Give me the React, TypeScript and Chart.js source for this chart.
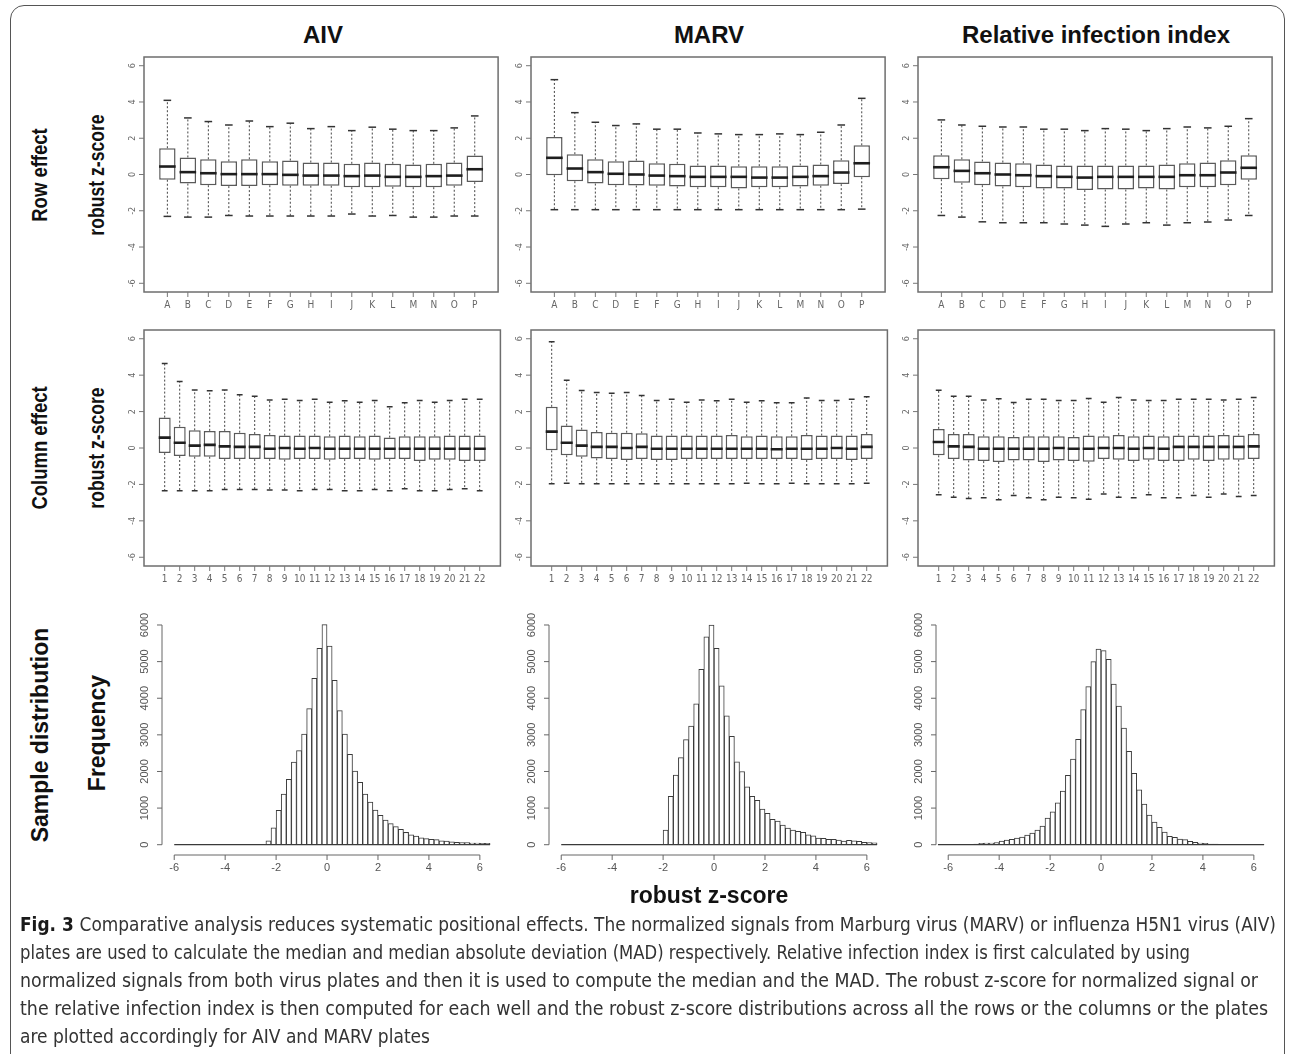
import React, { useEffect, useRef } from "react";
import { Chart, registerables } from "chart.js";
Chart.register(...registerables);

const NARROW = '"Liberation Sans Narrow", "DejaVu Sans Condensed", "Liberation Sans", Arial, sans-serif';
const SANS = '"Liberation Sans", Arial, Helvetica, sans-serif';

// ---------- categories / ticks ----------
const ROW_CATS = ["A", "B", "C", "D", "E", "F", "G", "H", "I", "J", "K", "L", "M", "N", "O", "P"];
const COL_CATS = ["1", "2", "3", "4", "5", "6", "7", "8", "9", "10", "11", "12", "13", "14", "15", "16", "17", "18", "19", "20", "21", "22"];
const BOX_Y_TICKS = [-6, -4, -2, 0, 2, 4, 6];
const HIST_Y_TICKS = [0, 1000, 2000, 3000, 4000, 5000, 6000];
const HIST_X_TICKS = [-6, -4, -2, 0, 2, 4, 6];
const BIN_WIDTH = 0.2;

// ---------- Row effect ----------
const rowAivHi = [4.09, 3.12, 2.92, 2.73, 2.95, 2.64, 2.83, 2.53, 2.64, 2.42, 2.61, 2.5, 2.42, 2.42, 2.57, 3.23];
const rowAivQ3 = [1.45, 0.94, 0.84, 0.73, 0.84, 0.73, 0.77, 0.66, 0.66, 0.59, 0.66, 0.59, 0.55, 0.59, 0.66, 1.05];
const rowAivMed = [0.44, 0.13, 0.07, 0.02, 0.02, 0.02, -0.02, -0.06, -0.06, -0.09, -0.06, -0.13, -0.13, -0.09, -0.06, 0.29];
const rowAivQ1 = [-0.29, -0.5, -0.59, -0.64, -0.64, -0.59, -0.62, -0.62, -0.62, -0.7, -0.7, -0.68, -0.7, -0.7, -0.62, -0.42];
const rowAivLo = [-2.31, -2.35, -2.35, -2.26, -2.29, -2.29, -2.29, -2.29, -2.29, -2.18, -2.29, -2.26, -2.35, -2.35, -2.29, -2.29];

const rowMarvHi = [5.23, 3.41, 2.88, 2.7, 2.79, 2.5, 2.5, 2.29, 2.24, 2.2, 2.2, 2.24, 2.2, 2.33, 2.73, 4.2];
const rowMarvQ3 = [2.07, 1.12, 0.84, 0.73, 0.77, 0.62, 0.59, 0.5, 0.5, 0.46, 0.46, 0.46, 0.5, 0.55, 0.79, 1.61];
const rowMarvMed = [0.92, 0.33, 0.13, 0.04, 0.0, -0.06, -0.09, -0.13, -0.13, -0.13, -0.17, -0.17, -0.13, -0.09, 0.11, 0.62];
const rowMarvQ1 = [-0.04, -0.37, -0.5, -0.59, -0.61, -0.62, -0.66, -0.7, -0.7, -0.77, -0.7, -0.7, -0.66, -0.62, -0.53, -0.15];
const rowMarvLo = [-1.94, -1.94, -1.94, -1.94, -1.94, -1.94, -1.94, -1.94, -1.94, -1.94, -1.94, -1.94, -1.94, -1.94, -1.94, -1.91];

const rowRiiHi = [3.01, 2.73, 2.66, 2.62, 2.62, 2.5, 2.5, 2.42, 2.53, 2.5, 2.42, 2.53, 2.62, 2.57, 2.66, 3.08];
const rowRiiQ3 = [1.06, 0.84, 0.72, 0.66, 0.62, 0.55, 0.5, 0.5, 0.5, 0.5, 0.5, 0.55, 0.62, 0.66, 0.79, 1.06];
const rowRiiMed = [0.4, 0.2, 0.07, 0.0, -0.04, -0.09, -0.13, -0.17, -0.13, -0.13, -0.13, -0.13, -0.04, -0.04, 0.11, 0.37];
const rowRiiQ1 = [-0.26, -0.46, -0.59, -0.66, -0.7, -0.77, -0.77, -0.86, -0.83, -0.83, -0.77, -0.83, -0.7, -0.7, -0.59, -0.29];
const rowRiiLo = [-2.26, -2.35, -2.61, -2.66, -2.66, -2.66, -2.73, -2.79, -2.86, -2.73, -2.66, -2.79, -2.66, -2.62, -2.51, -2.26];

// ---------- Column effect ----------
const colAivHi = [4.64, 3.65, 3.19, 3.14, 3.19, 2.92, 2.84, 2.64, 2.68, 2.61, 2.68, 2.51, 2.59, 2.51, 2.61, 2.26, 2.48, 2.61, 2.51, 2.61, 2.68, 2.68];
const colAivQ3 = [1.67, 1.17, 0.97, 0.94, 0.94, 0.84, 0.77, 0.72, 0.68, 0.68, 0.68, 0.64, 0.68, 0.64, 0.68, 0.57, 0.64, 0.64, 0.64, 0.68, 0.68, 0.68];
const colAivMed = [0.57, 0.29, 0.13, 0.17, 0.09, 0.06, 0.06, -0.04, 0.0, -0.04, 0.0, -0.04, -0.04, -0.04, -0.04, -0.04, -0.04, -0.04, -0.04, -0.04, -0.04, -0.04];
const colAivQ1 = [-0.28, -0.44, -0.48, -0.48, -0.61, -0.61, -0.61, -0.61, -0.64, -0.61, -0.61, -0.64, -0.61, -0.61, -0.64, -0.61, -0.61, -0.72, -0.64, -0.64, -0.72, -0.72];
const colAivLo = [-2.35, -2.35, -2.35, -2.35, -2.28, -2.28, -2.28, -2.31, -2.31, -2.35, -2.28, -2.28, -2.35, -2.35, -2.28, -2.35, -2.24, -2.35, -2.35, -2.28, -2.24, -2.35];

const colMarvHi = [5.83, 3.72, 3.16, 3.05, 3.01, 3.05, 2.88, 2.61, 2.68, 2.51, 2.64, 2.59, 2.68, 2.51, 2.59, 2.48, 2.48, 2.75, 2.61, 2.61, 2.68, 2.81];
const colMarvQ3 = [2.26, 1.23, 1.01, 0.88, 0.84, 0.84, 0.81, 0.68, 0.68, 0.68, 0.68, 0.68, 0.72, 0.64, 0.68, 0.64, 0.64, 0.72, 0.68, 0.68, 0.68, 0.77];
const colMarvMed = [0.9, 0.29, 0.13, 0.06, 0.06, 0.0, 0.06, -0.04, -0.04, -0.04, -0.04, -0.04, -0.04, -0.04, -0.04, -0.07, -0.04, -0.04, -0.04, 0.0, -0.04, 0.06];
const colMarvQ1 = [-0.13, -0.4, -0.48, -0.57, -0.61, -0.66, -0.61, -0.66, -0.66, -0.61, -0.61, -0.61, -0.61, -0.61, -0.61, -0.61, -0.61, -0.66, -0.61, -0.61, -0.66, -0.61];
const colMarvLo = [-1.96, -1.93, -1.96, -1.96, -1.96, -1.96, -1.96, -1.96, -1.96, -1.96, -1.96, -1.96, -1.96, -1.93, -1.96, -1.96, -1.93, -1.96, -1.96, -1.96, -1.96, -1.93];

const colRiiHi = [3.17, 2.84, 2.84, 2.64, 2.7, 2.5, 2.68, 2.68, 2.61, 2.61, 2.72, 2.51, 2.77, 2.64, 2.61, 2.61, 2.68, 2.68, 2.68, 2.64, 2.68, 2.77];
const colRiiQ3 = [1.05, 0.77, 0.77, 0.64, 0.64, 0.61, 0.64, 0.64, 0.64, 0.61, 0.68, 0.64, 0.72, 0.64, 0.68, 0.64, 0.68, 0.68, 0.68, 0.72, 0.68, 0.77];
const colRiiMed = [0.33, 0.09, 0.06, -0.04, -0.04, -0.04, -0.04, -0.04, 0.0, -0.04, -0.04, 0.0, 0.0, -0.04, 0.0, -0.04, 0.06, 0.06, 0.06, 0.06, 0.06, 0.09];
const colRiiQ1 = [-0.4, -0.61, -0.68, -0.72, -0.77, -0.68, -0.68, -0.77, -0.68, -0.72, -0.75, -0.61, -0.64, -0.72, -0.64, -0.72, -0.72, -0.64, -0.72, -0.64, -0.64, -0.61];
const colRiiLo = [-2.57, -2.7, -2.77, -2.73, -2.84, -2.61, -2.73, -2.84, -2.7, -2.73, -2.81, -2.53, -2.7, -2.73, -2.57, -2.73, -2.73, -2.61, -2.7, -2.53, -2.66, -2.61];

// ---------- Sample distribution (histogram counts, bin width 0.2) ----------
const aivHistStart = -6;
const aivCounts = [
  0, 0, 0, 0, 0, 0, 0, 0, 0, 0, 0, 0, 0, 0, 0, 0, 0, 0,
  109, 464,
  938, 1384, 1785, 2258, 2568, 3023, 3715, 4543, 5363, 6009,
  5427, 4489, 3660, 3023, 2467, 2012, 1703, 1384, 1165, 947,
  801, 674, 574, 492, 419, 337, 273, 237, 191, 164,
  146, 137, 109, 100, 82, 64, 55, 55, 46, 46,
  40, 40,
];
const marvHistStart = -6;
const marvCounts = [
  0, 0, 0, 0, 0, 0, 0, 0, 0, 0, 0, 0, 0, 0, 0, 0, 0, 0, 0, 0,
  400, 1320, 1900, 2380, 2870, 3240, 3850, 4790, 5680, 6000,
  5360, 4340, 3520, 2960, 2260, 2000, 1580, 1320, 1210, 970,
  855, 690, 645, 536, 455, 400, 364, 336, 273, 245,
  182, 173, 145, 145, 127, 100, 118, 109, 91, 64,
  55, 50,
];
const riiHistStart = -6.4;
const riiCounts = [
  3, 4, 5, 6, 8, 10, 13, 20,
  36, 45, 45, 55, 100, 127, 146, 182, 209, 264,
  319, 400, 510, 730, 900, 1147, 1465, 1895, 2340, 2880,
  3690, 4315, 5000, 5345,
  5300, 5063, 4390, 3788, 3187, 2550, 1950, 1500, 1110, 810,
  620, 473, 346, 228, 200, 155, 137, 91, 64, 45,
  36, 20, 14, 10, 8, 6, 5, 4, 3, 3,
  2, 2,
];

// ---------- layout ----------
const COL_LEFT = [144, 531, 918];
const PLOT_W = 357;
const PAD = { left: 42, top: 14, right: 8, bottom: 26 };

function drawRotated(ctx: CanvasRenderingContext2D, text: string, x: number, y: number) {
  ctx.save();
  ctx.translate(x, y);
  ctx.rotate(-Math.PI / 2);
  ctx.fillText(text, 0, 0);
  ctx.restore();
}

function boxAxesPlugin(cats: string[]) {
  return {
    id: "rBoxAxes",
    afterDraw(chart: any) {
      const { ctx, chartArea: a, scales } = chart;
      const xs = scales.x;
      const ys = scales.y;
      ctx.save();
      ctx.strokeStyle = "#6e6e6e";
      ctx.lineWidth = 1.5;
      ctx.strokeRect(a.left, a.top, a.right - a.left, a.bottom - a.top);
      ctx.strokeStyle = "#777";
      ctx.lineWidth = 1;
      ctx.fillStyle = "#666";
      ctx.font = "9px " + NARROW;
      ctx.textAlign = "center";
      ctx.textBaseline = "middle";
      BOX_Y_TICKS.forEach((v) => {
        const y = ys.getPixelForValue(v);
        ctx.beginPath();
        ctx.moveTo(a.left, y);
        ctx.lineTo(a.left - 5, y);
        ctx.stroke();
        drawRotated(ctx, String(v), a.left - 11, y);
      });
      ctx.font = "10px " + NARROW;
      cats.forEach((c, i) => {
        const x = xs.getPixelForValue(i + 1);
        ctx.beginPath();
        ctx.moveTo(x, a.bottom);
        ctx.lineTo(x, a.bottom + 5);
        ctx.stroke();
        ctx.fillText(c, x, a.bottom + 13);
      });
      ctx.restore();
    },
  };
}

const histAxesPlugin = {
  id: "rHistAxes",
  afterDraw(chart: any) {
    const { ctx, chartArea: a, scales } = chart;
    const xs = scales.x;
    const ys = scales.y;
    ctx.save();
    ctx.strokeStyle = "#666";
    ctx.lineWidth = 1;
    ctx.fillStyle = "#555";
    ctx.textAlign = "center";
    ctx.textBaseline = "middle";
    ctx.font = "11px " + SANS;
    const y0 = ys.getPixelForValue(HIST_Y_TICKS[0]);
    const y1 = ys.getPixelForValue(HIST_Y_TICKS[HIST_Y_TICKS.length - 1]);
    ctx.beginPath();
    ctx.moveTo(a.left, y0);
    ctx.lineTo(a.left, y1);
    ctx.stroke();
    HIST_Y_TICKS.forEach((v) => {
      const y = ys.getPixelForValue(v);
      ctx.beginPath();
      ctx.moveTo(a.left, y);
      ctx.lineTo(a.left - 5, y);
      ctx.stroke();
      drawRotated(ctx, String(v), a.left - 17, y);
    });
    const x0 = xs.getPixelForValue(HIST_X_TICKS[0]);
    const x1 = xs.getPixelForValue(HIST_X_TICKS[HIST_X_TICKS.length - 1]);
    ctx.beginPath();
    ctx.moveTo(x0, a.bottom);
    ctx.lineTo(x1, a.bottom);
    ctx.stroke();
    HIST_X_TICKS.forEach((v) => {
      const x = xs.getPixelForValue(v);
      ctx.beginPath();
      ctx.moveTo(x, a.bottom);
      ctx.lineTo(x, a.bottom + 5);
      ctx.stroke();
      ctx.fillText(String(v), x, a.bottom + 13);
    });
    ctx.restore();
  },
};

function boxConfig(
  cats: string[], hi: number[], q3: number[], med: number[], q1: number[], lo: number[],
  xMin: number, xMax: number, capR: number, medR: number
): any {
  const whisker: any[] = [];
  cats.forEach((_, i) => {
    const x = i + 1;
    whisker.push({ x, y: q3[i] }, { x, y: hi[i] }, { x, y: null }, { x, y: q1[i] }, { x, y: lo[i] }, { x, y: null });
  });
  const caps: any[] = [];
  cats.forEach((_, i) => {
    caps.push({ x: i + 1, y: hi[i] }, { x: i + 1, y: lo[i] });
  });
  return {
    type: "bar",
    data: {
      datasets: [
        {
          type: "bar",
          data: cats.map((_, i) => ({ x: i + 1, y: [q1[i], q3[i]] })),
          backgroundColor: "#ffffff",
          borderColor: "#5a5a5a",
          borderWidth: 1.5,
          borderSkipped: false,
          barPercentage: 0.8,
          categoryPercentage: 1,
          order: 3,
        },
        {
          type: "line",
          data: whisker,
          borderColor: "#444",
          borderWidth: 1,
          borderDash: [2, 2],
          pointRadius: 0,
          spanGaps: false,
          fill: false,
          order: 2,
        },
        {
          type: "scatter",
          data: caps,
          pointStyle: "line",
          pointRadius: capR,
          pointBorderColor: "#333",
          pointBorderWidth: 1.5,
          order: 1,
        },
        {
          type: "scatter",
          data: cats.map((_, i) => ({ x: i + 1, y: med[i] })),
          pointStyle: "line",
          pointRadius: medR,
          pointBorderColor: "#1e1e1e",
          pointBorderWidth: 2.6,
          order: 0,
        },
      ],
    },
    options: {
      responsive: false,
      animation: false,
      events: [],
      layout: { padding: PAD },
      plugins: { legend: { display: false }, tooltip: { enabled: false } },
      scales: {
        x: { type: "linear", min: xMin, max: xMax, offset: false, display: false },
        y: { type: "linear", min: -6.48, max: 6.48, display: false },
      },
    },
    plugins: [boxAxesPlugin(cats)],
  };
}

function histConfig(start: number, counts: number[]): any {
  const end = start + counts.length * BIN_WIDTH;
  return {
    type: "bar",
    data: {
      datasets: [
        {
          type: "bar",
          data: counts.map((c, i) => ({ x: start + (i + 0.5) * BIN_WIDTH, y: c })),
          backgroundColor: "#ffffff",
          borderColor: "#3a3a3a",
          borderWidth: 1,
          borderSkipped: false,
          barPercentage: 1,
          categoryPercentage: 1,
          order: 1,
        },
        {
          type: "line",
          data: [{ x: start, y: 0 }, { x: end, y: 0 }],
          borderColor: "#3a3a3a",
          borderWidth: 1.2,
          pointRadius: 0,
          fill: false,
          order: 0,
        },
      ],
    },
    options: {
      responsive: false,
      animation: false,
      events: [],
      layout: { padding: PAD },
      plugins: { legend: { display: false }, tooltip: { enabled: false } },
      scales: {
        x: { type: "linear", min: -6.48, max: 6.83, offset: false, display: false },
        y: { type: "linear", min: -281, max: 6355, display: false },
      },
    },
    plugins: [histAxesPlugin],
  };
}

function ChartPanel({ left, top, width, height, config }: { left: number; top: number; width: number; height: number; config: any }) {
  const ref = useRef<HTMLCanvasElement>(null);
  useEffect(() => {
    const chart = new Chart(ref.current as HTMLCanvasElement, config);
    return () => chart.destroy();
  }, []);
  return (
    <canvas
      ref={ref}
      width={width}
      height={height}
      style={{ position: "absolute", left, top, width, height }}
    />
  );
}

// area = chart area in page pixels
function Panel({ area, config }: { area: { l: number; t: number; r: number; b: number }; config: any }) {
  const left = area.l - PAD.left;
  const top = area.t - PAD.top;
  const width = area.r - area.l + PAD.left + PAD.right;
  const height = area.b - area.t + PAD.top + PAD.bottom;
  return <ChartPanel left={left} top={top} width={width} height={height} config={config} />;
}

function HText({ cx, cy, text, size }: { cx: number; cy: number; text: string; size: number }) {
  return (
    <div
      style={{
        position: "absolute", left: cx - 250, top: cy - 16, width: 500, height: 32, lineHeight: "32px",
        textAlign: "center", fontFamily: SANS, fontWeight: "bold", fontSize: size, color: "#111", whiteSpace: "nowrap",
      }}
    >
      {text}
    </div>
  );
}

function VText({ cx, cy, text, size, squeeze }: { cx: number; cy: number; text: string; size: number; squeeze: number }) {
  return (
    <div
      style={{
        position: "absolute", left: cx - 200, top: cy - 16, width: 400, height: 32, lineHeight: "32px",
        textAlign: "center", fontFamily: SANS, fontWeight: "bold", fontSize: size, color: "#111", whiteSpace: "nowrap",
        transform: `rotate(-90deg) scaleX(${squeeze})`, transformOrigin: "50% 50%",
      }}
    >
      {text}
    </div>
  );
}

const CAPTION_LINES = [
  "Comparative analysis reduces systematic positional effects. The normalized signals from Marburg virus (MARV) or influenza H5N1 virus (AIV)",
  "plates are used to calculate the median and median absolute deviation (MAD) respectively. Relative infection index is first calculated by using",
  "normalized signals from both virus plates and then it is used to compute the median and the MAD. The robust z-score for normalized signal or",
  "the relative infection index is then computed for each well and the robust z-score distributions across all the rows or the columns or the plates",
  "are plotted accordingly for AIV and MARV plates",
];
const CAPTION_WIDTHS = [1256, 1170, 1238, 1248, 410];

export default function App() {
  const row1 = { t: 57, b: 292 };
  const row2 = { t: 330, b: 566 };
  const row3 = { t: 612, b: 855 };
  const rowSets = [
    [rowAivHi, rowAivQ3, rowAivMed, rowAivQ1, rowAivLo],
    [rowMarvHi, rowMarvQ3, rowMarvMed, rowMarvQ1, rowMarvLo],
    [rowRiiHi, rowRiiQ3, rowRiiMed, rowRiiQ1, rowRiiLo],
  ];
  const colSets = [
    [colAivHi, colAivQ3, colAivMed, colAivQ1, colAivLo],
    [colMarvHi, colMarvQ3, colMarvMed, colMarvQ1, colMarvLo],
    [colRiiHi, colRiiQ3, colRiiMed, colRiiQ1, colRiiLo],
  ];
  const hists: [number, number[]][] = [
    [aivHistStart, aivCounts],
    [marvHistStart, marvCounts],
    [riiHistStart, riiCounts],
  ];
  return (
    <div style={{ position: "absolute", left: 0, top: 0, width: 1290, height: 1054, overflow: "hidden", background: "#fff" }}>
      <div
        style={{
          position: "absolute", left: 10, top: 5, width: 1275, height: 1200,
          border: "1.5px solid #555", borderRadius: 14, boxSizing: "border-box",
        }}
      />
      <HText cx={323} cy={35} text="AIV" size={24} />
      <HText cx={709} cy={35} text="MARV" size={24} />
      <HText cx={1096} cy={35} text="Relative infection index" size={24} />

      <VText cx={40} cy={175} text="Row effect" size={22} squeeze={0.84} />
      <VText cx={97} cy={175} text="robust z-score" size={22} squeeze={0.8} />
      <VText cx={40} cy={448} text="Column effect" size={22} squeeze={0.84} />
      <VText cx={97} cy={448} text="robust z-score" size={22} squeeze={0.8} />
      <VText cx={40} cy={735} text="Sample distribution" size={23} squeeze={1} />
      <VText cx={97} cy={733} text="Frequency" size={23} squeeze={1} />

      {COL_LEFT.map((l, c) => {
        const s = rowSets[c];
        return (
          <Panel
            key={"r" + c}
            area={{ l, t: row1.t, r: l + PLOT_W, b: row1.b }}
            config={boxConfig(ROW_CATS, s[0], s[1], s[2], s[3], s[4], -0.14, 17.14, 3.8, 8.3)}
          />
        );
      })}
      {COL_LEFT.map((l, c) => {
        const s = colSets[c];
        return (
          <Panel
            key={"c" + c}
            area={{ l, t: row2.t, r: l + PLOT_W, b: row2.b }}
            config={boxConfig(COL_CATS, s[0], s[1], s[2], s[3], s[4], -0.38, 23.38, 2.9, 6.0)}
          />
        );
      })}
      {COL_LEFT.map((l, c) => (
        <Panel
          key={"h" + c}
          area={{ l: l + 18, t: row3.t, r: l + PLOT_W, b: row3.b }}
          config={histConfig(hists[c][0], hists[c][1])}
        />
      ))}

      <HText cx={709} cy={895} text="robust z-score" size={23} />

      <svg width={1290} height={154} style={{ position: "absolute", left: 0, top: 900 }}>
        {CAPTION_LINES.map((line, i) => (
          <text
            key={i}
            x={20}
            y={31 + i * 28}
            textLength={CAPTION_WIDTHS[i]}
            lengthAdjust="spacingAndGlyphs"
            style={{ fontFamily: NARROW, fontSize: 19, fill: "#333" }}
          >
            {i === 0 ? <tspan style={{ fontWeight: "bold", fill: "#1a1a1a" }}>Fig. 3 </tspan> : null}
            {line}
          </text>
        ))}
      </svg>
    </div>
  );
}
